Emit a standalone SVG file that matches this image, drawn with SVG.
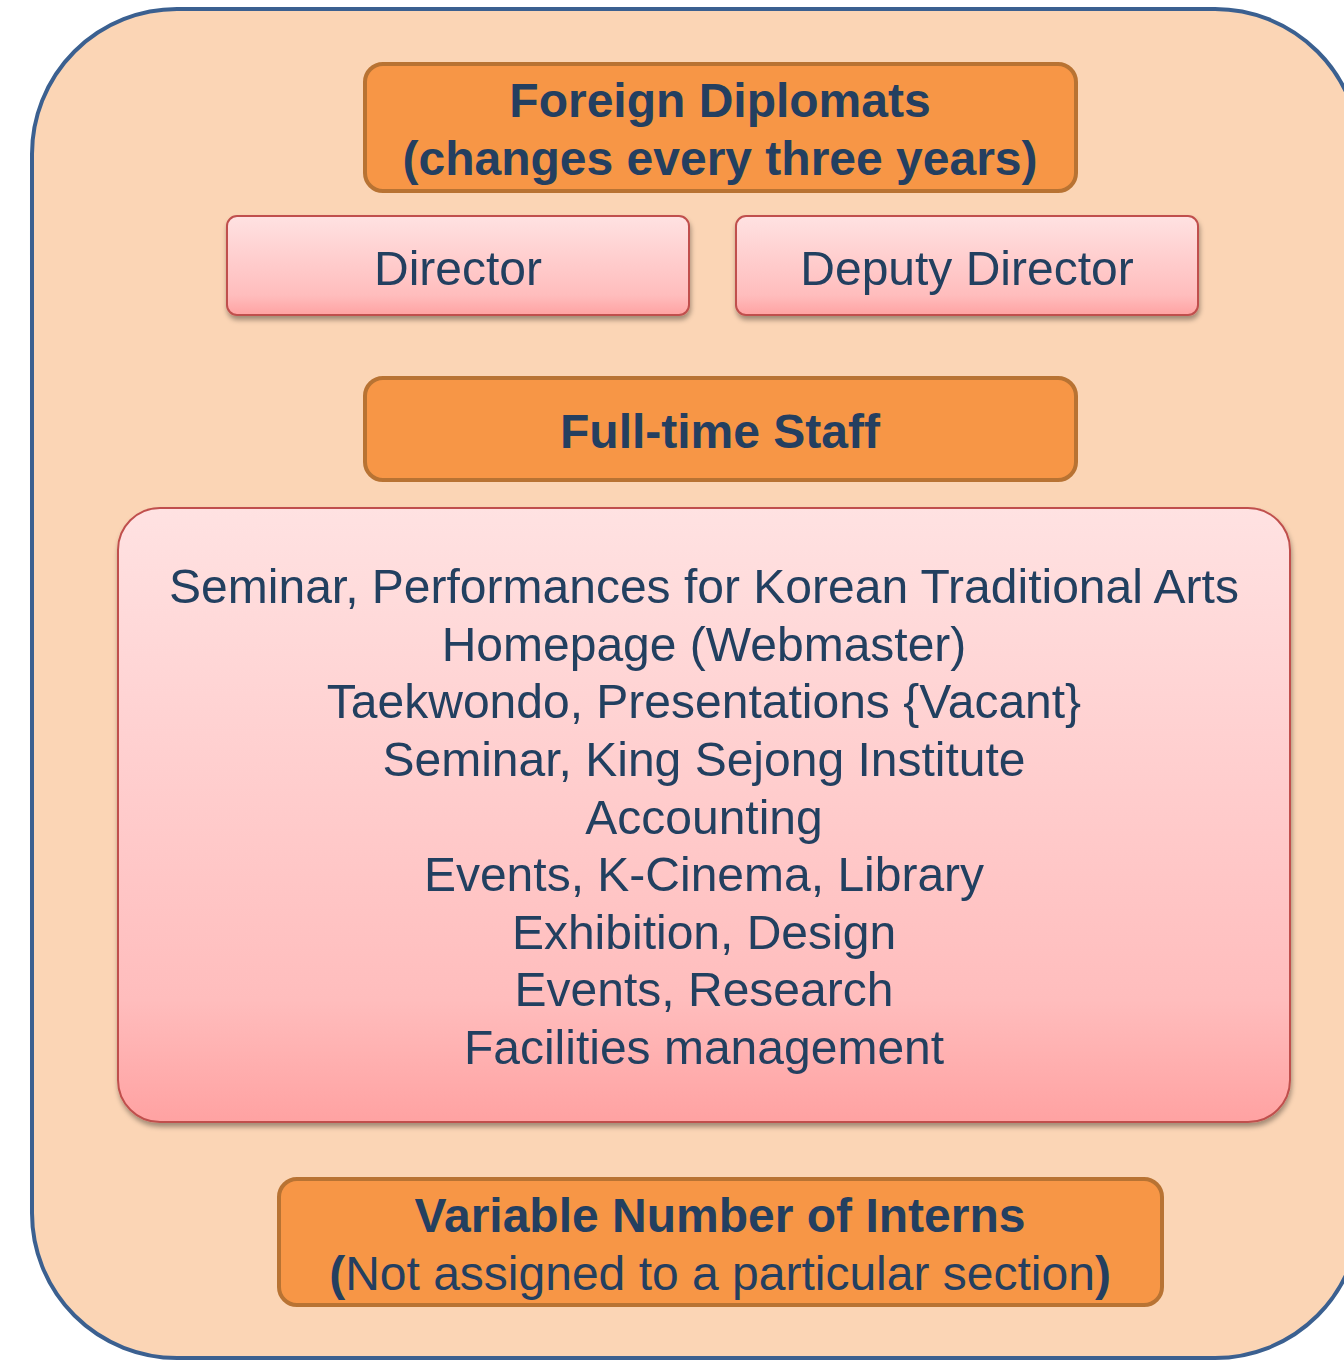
<svg xmlns="http://www.w3.org/2000/svg" width="1344" height="1361" viewBox="0 0 1344 1361">
<defs>
<linearGradient id="pink" x1="0" y1="0" x2="0" y2="1">
<stop offset="0" stop-color="#FFE2E2"/>
<stop offset="0.8" stop-color="#FFBDBD"/>
<stop offset="1" stop-color="#FFA2A2"/>
</linearGradient>
<filter id="sh" x="-5%" y="-10%" width="110%" height="125%">
<feGaussianBlur in="SourceAlpha" stdDeviation="2.5"/>
<feOffset dx="1" dy="4" result="b"/>
<feFlood flood-color="#000" flood-opacity="0.35"/>
<feComposite in2="b" operator="in"/>
<feMerge><feMergeNode/><feMergeNode in="SourceGraphic"/></feMerge>
</filter>
</defs>
<style>
.orange{fill:#F79646;stroke:#B87333;stroke-width:4}
.pinkbox{fill:url(#pink);stroke:#C0504D;stroke-width:2}
text{font-family:"Liberation Sans",Arial,sans-serif;fill:#243F60;text-anchor:middle}
.b{font-weight:bold;font-size:48px}
.r{font-size:48px}
</style>
<g id="outer">
<rect x="32" y="9" width="1328" height="1349" rx="145" ry="145" fill="#FBD5B5" stroke="#3B6090" stroke-width="4"/>
</g>
<g id="foreign-diplomats">
<rect class="orange" x="365" y="64" width="711" height="127" rx="18"/>
<text class="b" x="720" y="117">Foreign Diplomats</text>
<text class="b" x="720" y="175">(changes every three years)</text>
</g>
<g id="director" filter="url(#sh)">
<rect class="pinkbox" x="227" y="216" width="462" height="99" rx="10"/>
<text class="r" x="458" y="285">Director</text>
</g>
<g id="deputy-director" filter="url(#sh)">
<rect class="pinkbox" x="736" y="216" width="462" height="99" rx="10"/>
<text class="r" x="967" y="285">Deputy Director</text>
</g>
<g id="full-time-staff">
<rect class="orange" x="365" y="378" width="711" height="102" rx="18"/>
<text class="b" x="720" y="448">Full-time Staff</text>
</g>
<g id="sections" filter="url(#sh)">
<rect class="pinkbox" x="118" y="508" width="1172" height="614" rx="42"/>
<text class="r" x="704" y="603">Seminar, Performances for Korean Traditional Arts</text>
<text class="r" x="704" y="661">Homepage (Webmaster)</text>
<text class="r" x="704" y="718">Taekwondo, Presentations {Vacant}</text>
<text class="r" x="704" y="776">Seminar, King Sejong Institute</text>
<text class="r" x="704" y="834">Accounting</text>
<text class="r" x="704" y="891">Events, K-Cinema, Library</text>
<text class="r" x="704" y="949">Exhibition, Design</text>
<text class="r" x="704" y="1006">Events, Research</text>
<text class="r" x="704" y="1064">Facilities management</text>
</g>
<g id="interns">
<rect class="orange" x="279" y="1179" width="883" height="126" rx="18"/>
<text class="b" x="720" y="1232">Variable Number of Interns</text>
<text class="r" x="720" y="1290"><tspan font-weight="bold">(</tspan>Not assigned to a particular section<tspan font-weight="bold">)</tspan></text>
</g>
<g id="connectors"/>
</svg>
